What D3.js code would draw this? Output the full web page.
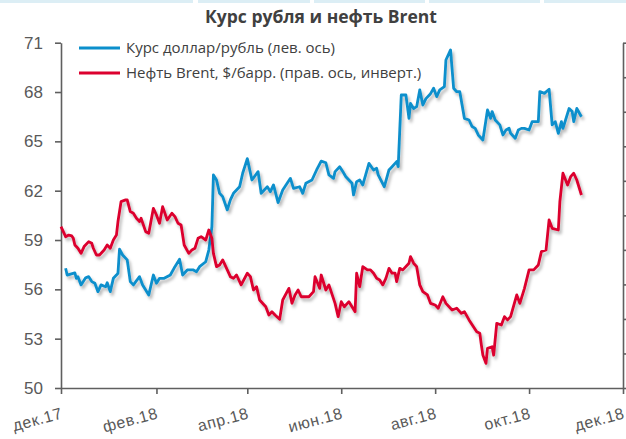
<!DOCTYPE html>
<html>
<head>
<meta charset="utf-8">
<title>Курс рубля и нефть Brent</title>
<style>
	body { margin: 0; background: #fff; }
	svg { display: block; font-family: "Open Sans", "Noto Sans", sans-serif; }
	.axis path, .axis line { stroke: #5f5f5f; stroke-width: 1.6; }
	.axis text { fill: #595959; }
</style>
</head>
<body>
<svg width="626" height="439"></svg>
<script src="https://cdn.jsdelivr.net/npm/d3@7"></script>
<script>
// курс доллар/рубль, руб.
const usd = [
	["2017-12-04",57.28],["2017-12-05",56.87],["2017-12-10",57.0],["2017-12-11",56.67],["2017-12-12",56.77],
	["2017-12-14",56.27],["2017-12-17",56.7],["2017-12-19",56.77],["2017-12-21",56.47],["2017-12-23",56.37],
	["2017-12-25",55.86],["2017-12-27",56.27],["2017-12-30",56.16],["2017-12-31",56.4],["2018-01-02",55.86],
	["2018-01-04",56.67],["2018-01-06",56.87],["2018-01-07",56.98],["2018-01-08",58.44],["2018-01-10",58.09],
	["2018-01-13",57.79],["2018-01-15",56.47],["2018-01-17",56.27],["2018-01-21",56.77],["2018-01-23",56.27],
	["2018-01-27",55.66],["2018-01-30",56.87],["2018-02-01",56.37],["2018-02-03",56.67],["2018-02-06",56.67],
	["2018-02-10",56.87],["2018-02-13",57.38],["2018-02-16",57.83],["2018-02-18",56.87],["2018-02-21",57.18],
	["2018-02-25",57.18],["2018-02-27",57.07],["2018-03-01",57.38],["2018-03-05",57.68],["2018-03-07",58.39],
	["2018-03-09",59.81],["2018-03-10",62.96],["2018-03-12",62.65],["2018-03-14",61.84],["2018-03-16",61.64],
	["2018-03-19",60.83],["2018-03-21",61.44],["2018-03-23",61.84],["2018-03-25",62.04],["2018-03-27",62.24],
	["2018-03-29",63.06],["2018-04-01",63.95],["2018-04-04",62.65],["2018-04-08",63.16],["2018-04-10",61.84],
	["2018-04-14",62.24],["2018-04-16",61.94],["2018-04-18",62.35],["2018-04-21",61.28],["2018-04-24",62.04],
	["2018-04-29",62.75],["2018-05-01",62.14],["2018-05-05",62.24],["2018-05-07",61.84],["2018-05-09",62.45],
	["2018-05-13",62.65],["2018-05-16",63.26],["2018-05-19",63.8],["2018-05-22",63.7],["2018-05-24",62.96],
	["2018-05-27",62.75],["2018-05-28",63.16],["2018-05-31",63.46],["2018-06-02",63.16],["2018-06-04",62.85],
	["2018-06-08",62.45],["2018-06-09",61.74],["2018-06-11",62.55],["2018-06-13",62.65],["2018-06-15",62.35],
	["2018-06-19",63.66],["2018-06-22",63.26],["2018-06-24",63.36],["2018-06-25",62.96],["2018-06-29",62.24],
	["2018-07-02",63.26],["2018-07-04",63.46],["2018-07-07",63.77],["2018-07-08",63.46],["2018-07-10",67.82],
	["2018-07-13",67.82],["2018-07-15",66.4],["2018-07-16",67.31],["2018-07-18",67.0],["2018-07-20",67.11],
	["2018-07-22",68.13],["2018-07-24",67.21],["2018-07-26",67.6],["2018-07-29",67.9],["2018-07-31",68.23],
	["2018-08-02",67.72],["2018-08-04",68.13],["2018-08-07",68.33],["2018-08-08",69.95],["2018-08-11",70.56],
	["2018-08-13",68.23],["2018-08-15",68.02],["2018-08-17",68.02],["2018-08-20",66.4],["2018-08-23",66.3],
	["2018-08-25",65.9],["2018-08-27",65.79],["2018-08-29",65.39],["2018-09-01",65.08],["2018-09-04",66.91],
	["2018-09-06",66.4],["2018-09-07",66.81],["2018-09-09",66.3],["2018-09-12",66.0],["2018-09-14",65.39],
	["2018-09-16",65.69],["2018-09-18",65.8],["2018-09-19",65.49],["2018-09-22",65.19],["2018-09-24",65.69],
	["2018-09-26",65.79],["2018-09-28",65.79],["2018-10-01",65.69],["2018-10-03",66.2],["2018-10-05",66.2],
	["2018-10-07",66.2],["2018-10-08",68.03],["2018-10-11",67.92],["2018-10-14",68.17],["2018-10-16",66.0],
	["2018-10-18",66.2],["2018-10-20",65.49],["2018-10-22",66.2],["2018-10-23",65.79],["2018-10-27",67.0],
	["2018-10-29",66.81],["2018-10-30",66.2],["2018-11-01",67.0],["2018-11-04",66.5]
]

// нефть Brent, $/барр. (правая ось, инвертированная)
const brent = [
	["2017-12-01",66.64],["2017-12-04",68.09],["2017-12-06",67.86],["2017-12-08",67.98],["2017-12-09",68.33],
	["2017-12-10",69.29],["2017-12-12",69.76],["2017-12-14",70.5],["2017-12-16",69.52],["2017-12-19",68.81],
	["2017-12-21",69.05],["2017-12-22",69.76],["2017-12-24",70.74],["2017-12-26",70.74],["2017-12-29",70.02],
	["2017-12-31",69.29],["2018-01-02",69.76],["2018-01-04",68.57],["2018-01-06",67.86],["2018-01-07",65.9],
	["2018-01-09",63.02],["2018-01-12",62.76],["2018-01-13",62.76],["2018-01-15",64.45],["2018-01-17",64.69],
	["2018-01-19",65.43],["2018-01-21",65.9],["2018-01-22",65.43],["2018-01-25",67.36],["2018-01-27",67.6],
	["2018-01-30",63.98],["2018-02-01",64.95],["2018-02-03",66.14],["2018-02-05",63.74],["2018-02-08",65.67],
	["2018-02-11",64.69],["2018-02-13",65.19],["2018-02-15",66.14],["2018-02-17",66.4],["2018-02-19",69.29],
	["2018-02-22",70.5],["2018-02-24",70.02],["2018-02-26",69.76],["2018-02-28",68.33],["2018-03-02",68.09],
	["2018-03-05",68.57],["2018-03-07",67.12],["2018-03-09",68.33],["2018-03-10",70.5],["2018-03-12",72.43],
	["2018-03-14",72.19],["2018-03-16",71.45],["2018-03-19",72.9],["2018-03-21",73.88],["2018-03-23",74.12],
	["2018-03-25",73.64],["2018-03-28",75.07],["2018-04-01",73.38],["2018-04-03",73.88],["2018-04-05",75.81],
	["2018-04-07",75.33],["2018-04-09",77.26],["2018-04-13",78.24],["2018-04-15",79.43],["2018-04-17",78.95],
	["2018-04-19",79.43],["2018-04-22",80.05],["2018-04-24",77.26],["2018-04-28",75.57],["2018-04-30",77.74],
	["2018-05-02",76.52],["2018-05-04",75.81],["2018-05-06",76.79],["2018-05-11",76.79],["2018-05-14",76.05],
	["2018-05-15",73.88],["2018-05-18",75.57],["2018-05-19",73.64],["2018-05-22",75.81],["2018-05-24",75.07],
	["2018-05-28",77.74],["2018-05-30",79.67],["2018-06-01",77.5],["2018-06-03",78.24],["2018-06-06",77.5],
	["2018-06-08",78.24],["2018-06-10",78.95],["2018-06-11",73.38],["2018-06-13",75.33],["2018-06-15",72.43],
	["2018-06-18",72.9],["2018-06-20",72.9],["2018-06-22",73.38],["2018-06-24",74.12],["2018-06-26",74.36],
	["2018-06-28",75.07],["2018-06-30",74.12],["2018-07-02",72.67],["2018-07-04",73.38],["2018-07-06",73.38],
	["2018-07-07",74.6],["2018-07-09",72.67],["2018-07-11",72.9],["2018-07-15",71.93],["2018-07-16",70.98],
	["2018-07-18",71.93],["2018-07-20",72.43],["2018-07-22",75.07],["2018-07-24",76.05],["2018-07-27",76.52],
	["2018-07-29",77.74],["2018-08-01",77.98],["2018-08-03",78.45],["2018-08-06",76.79],["2018-08-08",77.74],
	["2018-08-12",78.71],["2018-08-15",78.45],["2018-08-18",79.19],["2018-08-20",78.95],["2018-08-23",80.14],
	["2018-08-28",81.86],["2018-08-30",82.07],["2018-08-31",83.76],["2018-09-01",85.24],["2018-09-03",86.43],
	["2018-09-04",84.26],["2018-09-07",84.02],["2018-09-08",85.24],["2018-09-10",80.64],["2018-09-13",80.88],
	["2018-09-15",79.67],["2018-09-17",80.14],["2018-09-19",79.67],["2018-09-23",76.52],["2018-09-25",77.74],
	["2018-09-28",75.57],["2018-10-01",72.9],["2018-10-04",72.9],["2018-10-07",72.19],["2018-10-09",70.26],
	["2018-10-12",70.02],["2018-10-14",65.67],["2018-10-16",66.88],["2018-10-20",67.12],["2018-10-21",63.02],
	["2018-10-23",58.9],["2018-10-26",60.6],["2018-10-28",59.4],["2018-10-30",58.9],["2018-11-01",59.88],
	["2018-11-04",62.05]
]

const leftTicks = [50, 53, 56, 59, 62, 65, 68, 71]
const rightTicks = [40, 45, 50, 55, 60, 65, 70, 75, 80, 85, 90]
const dateTicks = ["2017-12-01", "2018-02-01", "2018-04-01", "2018-06-01", "2018-08-01", "2018-10-01", "2018-12-01"]
const monthNames = ["янв","фев","мар","апр","май","июн","июл","авг","сен","окт","ноя","дек"]
const legendNames = ["Курс доллар/рубль (лев. ось)", "Нефть Brent, $/барр. (прав. ось, инверт.)"]
const colors = ["#0b8fcc", "#dc002e"]

const parse = d3.timeParse("%Y-%m-%d")
const svg = d3.select("svg")

// полоска сверху
const bands = [[0, 193], [198, 310], [314, 425], [429, 540], [544, 626]]
svg.selectAll("rect.band").data(bands).join("rect")
	.attr("x", d => d[0]).attr("y", 0)
	.attr("width", d => d[1] - d[0]).attr("height", 3)
	.attr("fill", "#dceef5")

// тень у линий
const f = svg.append("defs").append("filter").attr("id", "sh")
	.attr("x", "-5%").attr("y", "-5%").attr("width", "110%").attr("height", "120%")
f.append("feDropShadow").attr("dx", 2).attr("dy", 3).attr("stdDeviation", 1.6)
	.attr("flood-color", "#000").attr("flood-opacity", 0.28)

// шкалы
const x = d3.scaleTime().domain([parse("2017-12-01"), parse("2018-12-01")]).range([61, 623])
const yL = d3.scaleLinear().domain([50, 71]).range([388, 42.7])
const yR = d3.scaleLinear().domain([40, 90]).range([42.7, 388])

// оси
svg.append("g").attr("class", "axis")
	.attr("transform", "translate(61,0)")
	.call(d3.axisLeft(yL).tickValues(leftTicks).tickSize(6).tickPadding(12).tickSizeOuter(0))
	.selectAll("text").attr("font-size", 17)

// правая ось: подписи за краем картинки
svg.append("g").attr("class", "axis")
	.attr("transform", "translate(623,0)")
	.call(d3.axisRight(yR).tickValues(rightTicks).tickSize(4).tickSizeOuter(0).tickFormat(() => ""))

const gx = svg.append("g").attr("class", "axis")
	.attr("transform", "translate(0,388)")
	.call(d3.axisBottom(x).tickValues(dateTicks.map(parse)).tickSize(6).tickSizeOuter(0)
		.tickFormat(d => monthNames[d.getMonth()] + "." + String(d.getFullYear()).slice(2)))
gx.selectAll("text")
	.attr("font-size", 16)
	.attr("letter-spacing", 0.6)
	.attr("text-anchor", "end")
	.attr("y", 0).attr("dy", 0)
	.attr("transform", "translate(2,30) rotate(-15)")

// линии
const line = (yScale) => d3.line().x(d => x(parse(d[0]))).y(d => yScale(d[1]))
svg.append("path").datum(usd)
	.attr("d", line(yL))
	.attr("fill", "none").attr("stroke", colors[0]).attr("stroke-width", 2.8)
	.attr("stroke-linejoin", "round").attr("filter", "url(#sh)")
svg.append("path").datum(brent)
	.attr("d", line(yR))
	.attr("fill", "none").attr("stroke", colors[1]).attr("stroke-width", 2.8)
	.attr("stroke-linejoin", "round").attr("filter", "url(#sh)")

// заголовок
svg.append("text").text("Курс рубля и нефть Brent")
	.attr("x", 321).attr("y", 23).attr("text-anchor", "middle")
	.attr("font-size", 17.5).attr("font-weight", "bold").attr("fill", "#404040")

// легенда
const lg = svg.append("g").selectAll("g").data(legendNames).join("g")
	.attr("transform", (d, i) => `translate(79,${48 + i * 25})`)
lg.append("line").attr("x1", 0).attr("x2", 41)
	.attr("stroke", (d, i) => colors[i]).attr("stroke-width", 3)
lg.append("text").text(d => d).attr("x", 47).attr("y", 5)
	.attr("font-size", 15).attr("fill", "#404040")
</script>
</body>
</html>
